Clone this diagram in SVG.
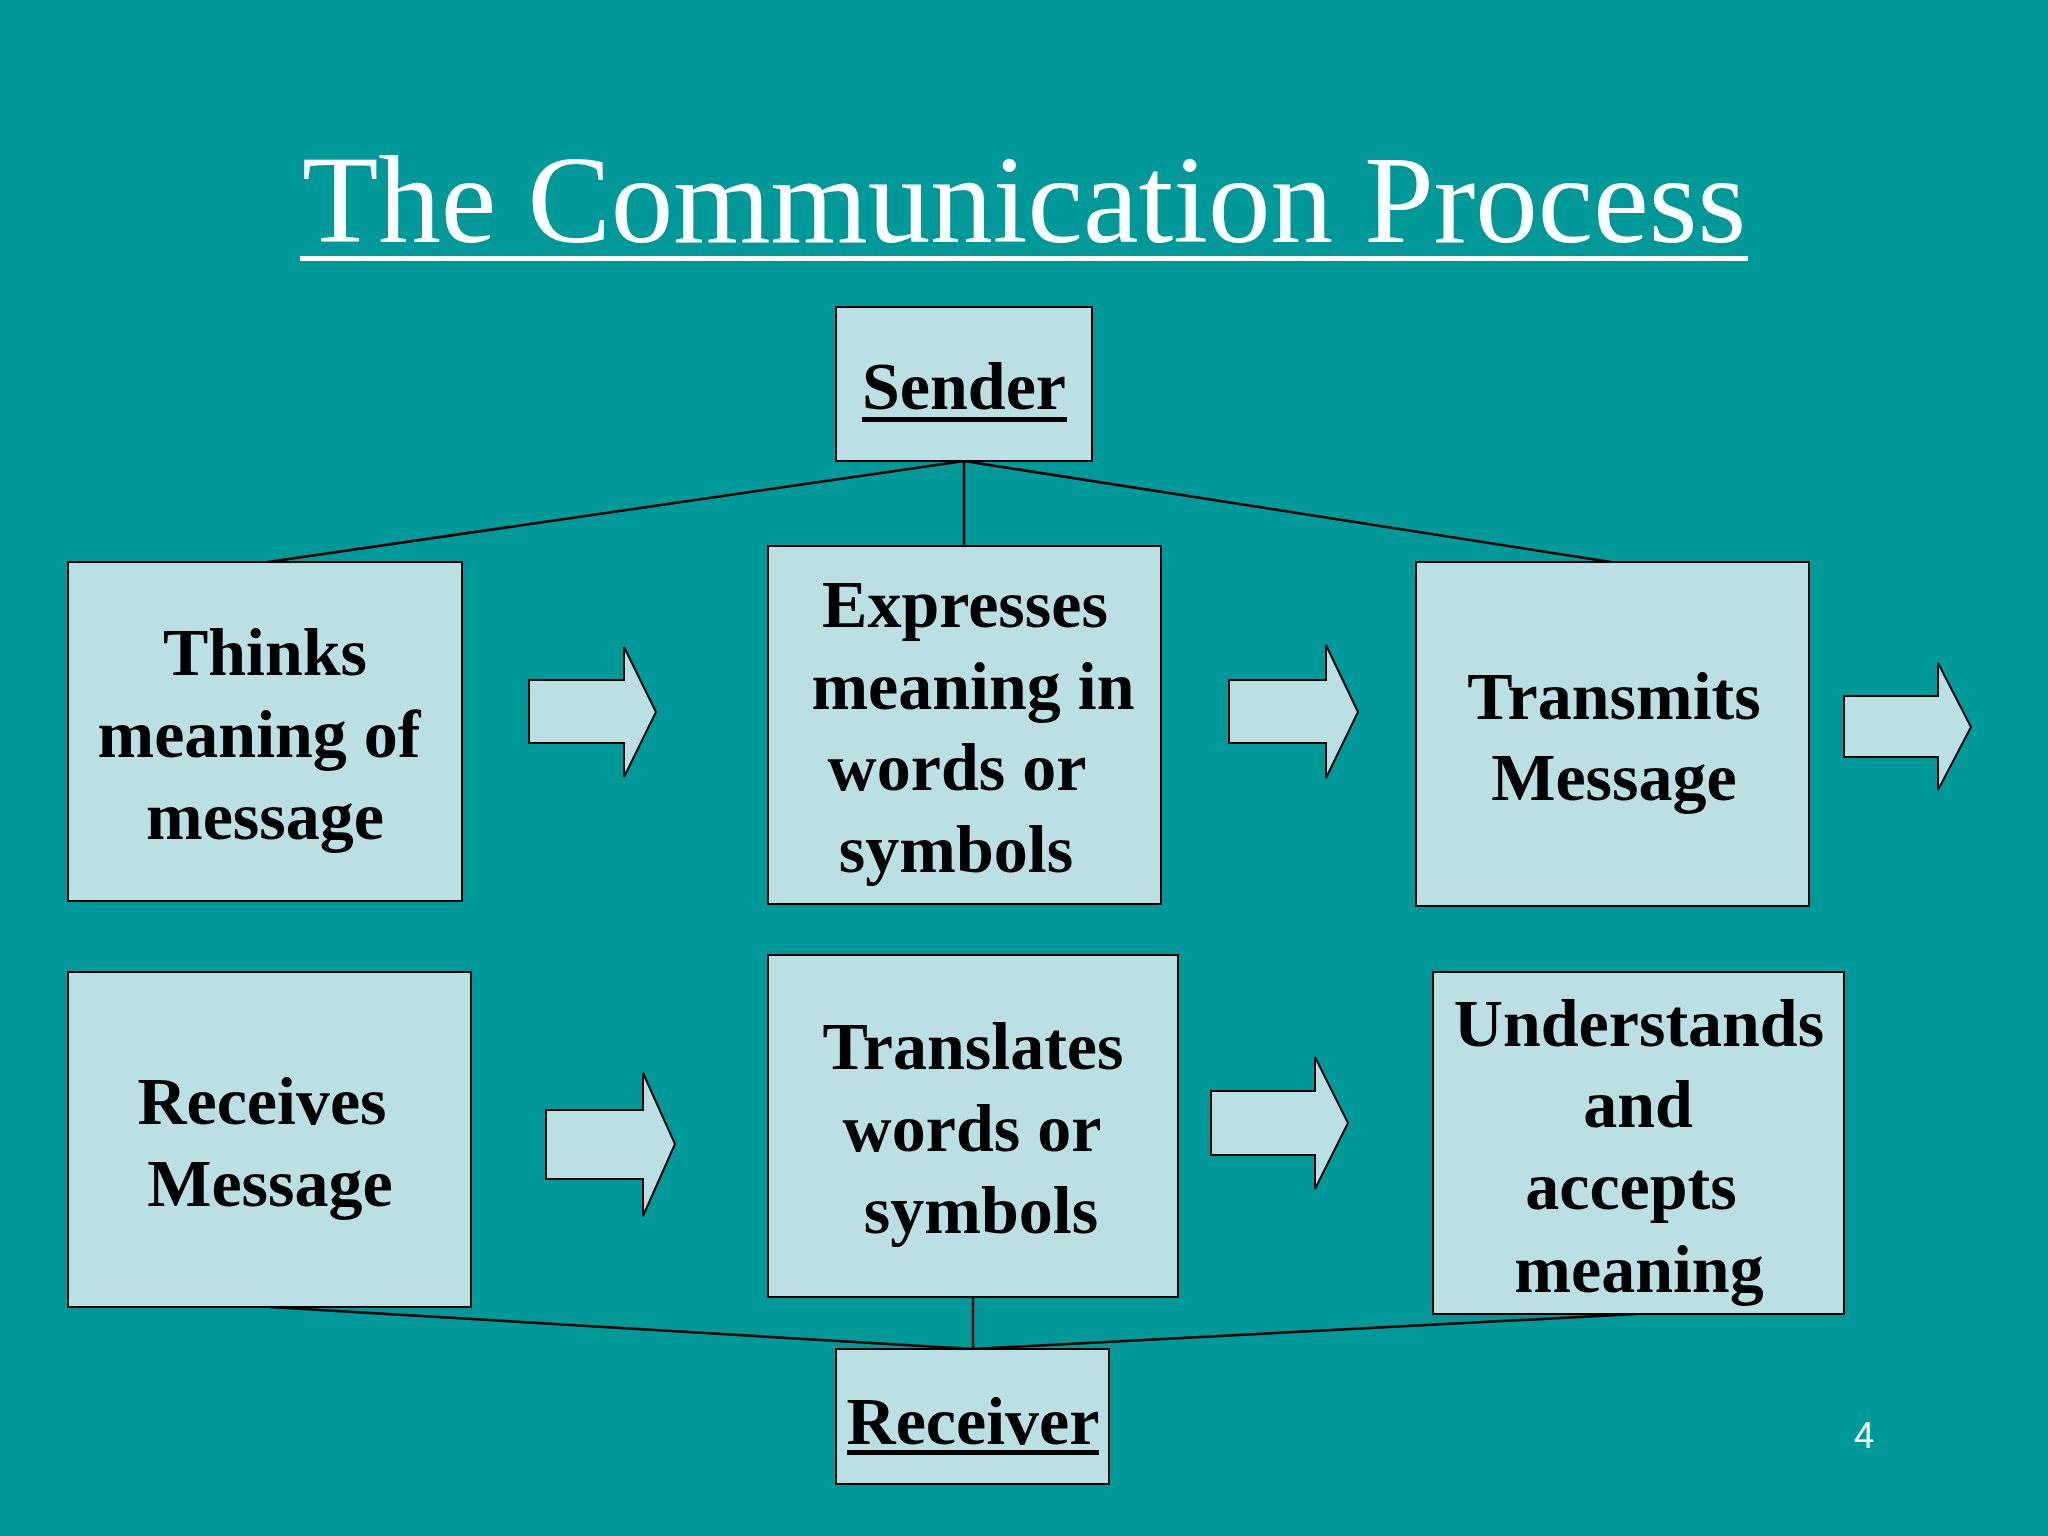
<svg xmlns="http://www.w3.org/2000/svg" width="2048" height="1536" viewBox="0 0 2048 1536">
<style>
.box{fill:#BBE0E3;stroke:#000;stroke-width:2}
.arr{fill:#BBE0E3;stroke:#000;stroke-width:2;stroke-linejoin:miter}
.lbl{font-family:"Liberation Serif","Times New Roman",serif;font-weight:bold;font-size:68px;fill:#000;text-anchor:middle}
.conn line{stroke:#000;stroke-width:2.5}
</style>
<rect x="0" y="0" width="2048" height="1536" fill="#009999"/>
<g id="title">
<text x="1024" y="242" font-family="Liberation Serif,'Times New Roman',serif" font-size="125" fill="#fff" text-anchor="middle">The Communication Process</text>
<rect x="300" y="256" width="1448" height="5" fill="#fff"/>
</g>
<g id="connectors" class="conn">
<line x1="964" y1="461" x2="268" y2="562"/>
<line x1="964" y1="461" x2="964" y2="546"/>
<line x1="964" y1="461" x2="1611" y2="562"/>
<line x1="270" y1="1307" x2="973" y2="1349"/>
<line x1="973" y1="1297" x2="973" y2="1349"/>
<line x1="973" y1="1349" x2="1636" y2="1314"/>
</g>
<g id="arrows">
<polygon id="arrow1" class="arr" points="529,680 624,680 624,647 656,712 624,777 624,743 529,743"/>
<polygon id="arrow2" class="arr" points="1229,680 1326,680 1326,645 1358,712 1326,778 1326,743 1229,743"/>
<polygon id="arrow3" class="arr" points="1844,696 1938,696 1938,663 1971,727 1938,790 1938,757 1844,757"/>
<polygon id="arrow4" class="arr" points="546,1110 643,1110 643,1073 675,1144 643,1216 643,1179 546,1179"/>
<polygon id="arrow5" class="arr" points="1211,1091 1315,1091 1315,1057 1348,1123 1315,1189 1315,1155 1211,1155"/>
</g>
<g id="sender">
<rect class="box" x="836" y="307" width="256" height="154"/>
<text class="lbl" x="964" y="409">Sender</text>
<rect x="862" y="417" width="205" height="5" fill="#000"/>
</g>
<g id="thinks">
<rect class="box" x="68" y="562" width="394" height="339"/>
<text class="lbl" x="265" y="675">Thinks</text>
<text class="lbl" x="259" y="757">meaning of</text>
<text class="lbl" x="265" y="839">message</text>
</g>
<g id="expresses">
<rect class="box" x="768" y="546" width="393" height="358"/>
<text class="lbl" x="965" y="627">Expresses</text>
<text class="lbl" x="973" y="709">meaning in</text>
<text class="lbl" x="957" y="790">words or</text>
<text class="lbl" x="956" y="872">symbols</text>
</g>
<g id="transmits">
<rect class="box" x="1416" y="562" width="393" height="344"/>
<text class="lbl" x="1614" y="719">Transmits</text>
<text class="lbl" x="1614" y="800">Message</text>
</g>
<g id="receives">
<rect class="box" x="68" y="972" width="403" height="335"/>
<text class="lbl" x="262" y="1124">Receives</text>
<text class="lbl" x="270" y="1206">Message</text>
</g>
<g id="translates">
<rect class="box" x="768" y="955" width="410" height="342"/>
<text class="lbl" x="973" y="1069">Translates</text>
<text class="lbl" x="972" y="1151">words or</text>
<text class="lbl" x="981" y="1233">symbols</text>
</g>
<g id="understands">
<rect class="box" x="1433" y="972" width="411" height="342"/>
<text class="lbl" x="1639" y="1046">Understands</text>
<text class="lbl" x="1638" y="1127">and</text>
<text class="lbl" x="1631" y="1209">accepts</text>
<text class="lbl" x="1639" y="1292">meaning</text>
</g>
<g id="receiver">
<rect class="box" x="836" y="1349" width="273" height="135"/>
<text class="lbl" x="973" y="1444">Receiver</text>
<rect x="847" y="1450" width="252" height="5" fill="#000"/>
</g>
<text id="page-number" x="1854" y="1448" font-family="Liberation Sans,Arial,sans-serif" font-size="36" fill="#fff">4</text>
</svg>
